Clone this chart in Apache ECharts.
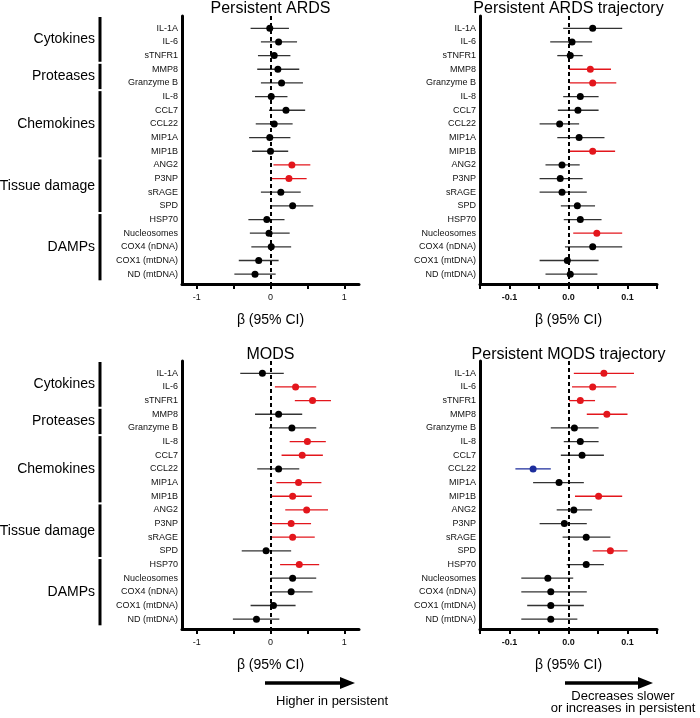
<!DOCTYPE html>
<html>
<head>
<meta charset="utf-8">
<script src="https://cdn.jsdelivr.net/npm/echarts@6/dist/echarts.min.js"></script>
<style>
html, body { margin: 0; padding: 0; background: #fff; }
#chart { width: 700px; height: 718px; }
</style>
</head>
<body>
<div id="chart"></div>
<script>
var markers = ['IL-1A', 'IL-6', 'sTNFR1', 'MMP8', 'Granzyme B', 'IL-8', 'CCL7', 'CCL22', 'MIP1A', 'MIP1B',
    'ANG2', 'P3NP', 'sRAGE', 'SPD', 'HSP70', 'Nucleosomes', 'COX4 (nDNA)', 'COX1 (mtDNA)', 'ND (mtDNA)'];

var groupNames = ['Cytokines', 'Proteases', 'Chemokines', 'Tissue damage', 'DAMPs'];
var groupFirst = [0, 3, 5, 10, 14];
var groupLast = [2, 4, 9, 13, 18];

// 1 = significant positive (red), -1 = significant negative (blue)
var ardsBeta = [-0.01, 0.11, 0.05, 0.10, 0.15, 0.01, 0.21, 0.05, -0.01, 0.00, 0.29, 0.25, 0.14, 0.30, -0.05, -0.02, 0.01, -0.16, -0.21];
var ardsLow = [-0.27, -0.13, -0.17, -0.18, -0.13, -0.21, -0.02, -0.20, -0.29, -0.25, 0.04, 0.01, -0.13, 0.00, -0.30, -0.28, -0.26, -0.43, -0.49];
var ardsHigh = [0.25, 0.36, 0.27, 0.39, 0.44, 0.23, 0.47, 0.30, 0.27, 0.24, 0.54, 0.49, 0.41, 0.58, 0.19, 0.26, 0.28, 0.11, 0.07];
var ardsSig = [0, 0, 0, 0, 0, 0, 0, 0, 0, 0, 1, 1, 0, 0, 0, 0, 0, 0, 0];

var ardsTrajBeta = [0.041, 0.006, 0.003, 0.037, 0.041, 0.020, 0.016, -0.015, 0.018, 0.041, -0.011, -0.014, -0.011, 0.015, 0.020, 0.048, 0.041, -0.002, 0.003];
var ardsTrajLow = [-0.009, -0.031, -0.019, 0.001, 0.002, -0.009, -0.018, -0.049, -0.019, 0.002, -0.039, -0.049, -0.049, -0.013, -0.008, 0.008, -0.006, -0.049, -0.039];
var ardsTrajHigh = [0.091, 0.040, 0.024, 0.072, 0.081, 0.051, 0.051, 0.018, 0.061, 0.079, 0.019, 0.024, 0.031, 0.045, 0.056, 0.091, 0.091, 0.051, 0.049];
var ardsTrajSig = [0, 0, 0, 1, 1, 0, 0, 0, 0, 1, 0, 0, 0, 0, 0, 1, 0, 0, 0];

var modsBeta = [-0.11, 0.34, 0.57, 0.11, 0.29, 0.50, 0.43, 0.11, 0.38, 0.30, 0.49, 0.28, 0.30, -0.06, 0.39, 0.30, 0.28, 0.04, -0.19];
var modsLow = [-0.41, 0.06, 0.33, -0.21, -0.02, 0.26, 0.15, -0.18, 0.08, 0.02, 0.20, 0.00, 0.01, -0.39, 0.13, 0.00, 0.00, -0.27, -0.51];
var modsHigh = [0.18, 0.62, 0.82, 0.43, 0.62, 0.75, 0.71, 0.39, 0.69, 0.56, 0.78, 0.55, 0.60, 0.28, 0.66, 0.62, 0.57, 0.34, 0.12];
var modsSig = [0, 1, 1, 0, 0, 1, 1, 0, 1, 1, 1, 1, 1, 0, 1, 0, 0, 0, 0];

var modsTrajBeta = [0.060, 0.041, 0.020, 0.065, 0.010, 0.020, 0.023, -0.060, -0.016, 0.051, 0.009, -0.007, 0.030, 0.071, 0.030, -0.035, -0.030, -0.030, -0.030];
var modsTrajLow = [0.009, 0.006, 0.001, 0.031, -0.030, -0.008, -0.013, -0.090, -0.060, 0.011, -0.020, -0.049, -0.010, 0.041, -0.003, -0.080, -0.080, -0.070, -0.080];
var modsTrajHigh = [0.111, 0.081, 0.045, 0.100, 0.051, 0.051, 0.060, -0.030, 0.026, 0.091, 0.040, 0.031, 0.071, 0.100, 0.060, 0.008, 0.031, 0.026, 0.015];
var modsTrajSig = [1, 1, 1, 1, 0, 0, 0, -1, 0, 1, 0, 0, 0, 1, 0, 0, 0, 0, 0];

var panelTitles = ['Persistent ARDS', 'Persistent ARDS trajectory', 'MODS', 'Persistent MODS trajectory'];
var wideTicks = [-1, -0.5, 0, 0.5, 1];
var wideLabels = [-1, 0, 1];
var narrowTicks = [-0.15, -0.1, -0.05, 0, 0.05, 0.1, 0.15];
var narrowLabels = [-0.1, 0, 0.1];

(function (window) {
    "use strict";
    var FONT = 'Liberation Sans, Arial, sans-serif';
    var RED = '#e3161c';
    var BLUE = '#1c2d9c';

    var dot_color = function (s) {
        if (s === 1) return RED;
        if (s === -1) return BLUE;
        return '#000';
    };
    var bar_color = function (s) {
        if (s === 1) return RED;
        if (s === -1) return BLUE;
        return '#333';
    };

    var panels = [
        { beta: ardsBeta, low: ardsLow, high: ardsHigh, sig: ardsSig, wide: true, left: 182, top: 16, titleY: 9 },
        { beta: ardsTrajBeta, low: ardsTrajLow, high: ardsTrajHigh, sig: ardsTrajSig, wide: false, left: 480, top: 16, titleY: 9 },
        { beta: modsBeta, low: modsLow, high: modsHigh, sig: modsSig, wide: true, left: 182, top: 361, titleY: 355 },
        { beta: modsTrajBeta, low: modsTrajLow, high: modsTrajHigh, sig: modsTrajSig, wide: false, left: 480, top: 361, titleY: 355 }
    ];
    var GRID_W = 177, GRID_H = 268;

    var build_option = function () {
        var grid = [], xAxis = [], yAxis = [], series = [];
        panels.forEach(function (p, k) {
            grid.push({ left: p.left, top: p.top, width: GRID_W, height: GRID_H });
            xAxis.push({
                type: 'value',
                gridIndex: k,
                min: p.wide ? -1.2 : -0.15,
                max: p.wide ? 1.2 : 0.15,
                name: 'β (95% CI)',
                nameLocation: 'middle',
                nameGap: 29,
                nameTextStyle: { fontFamily: FONT, fontSize: 14, color: '#000' },
                splitLine: { show: false },
                axisLine: { onZero: false, lineStyle: { color: '#000', width: 3 } },
                axisTick: {
                    customValues: p.wide ? wideTicks : narrowTicks,
                    length: 5,
                    lineStyle: { color: '#000', width: 2 }
                },
                axisLabel: {
                    customValues: p.wide ? wideLabels : narrowLabels,
                    margin: 9,
                    fontFamily: FONT,
                    fontSize: 9,
                    fontWeight: p.wide ? 'normal' : 'bold',
                    color: '#111',
                    formatter: function (v) {
                        return p.wide ? String(v) : v.toFixed(1);
                    }
                }
            });
            yAxis.push({
                type: 'value',
                gridIndex: k,
                inverse: true,
                min: -0.9,
                max: 18.72,
                splitLine: { show: false },
                axisLine: { onZero: false, lineStyle: { color: '#000', width: 3 } },
                axisTick: { show: false },
                axisLabel: {
                    customValues: markers.map(function (m, i) { return i; }),
                    margin: 4,
                    fontFamily: FONT,
                    fontSize: 9,
                    color: '#111',
                    formatter: function (v) {
                        return markers[Math.round(v)] || '';
                    }
                }
            });
            series.push({
                type: 'custom',
                xAxisIndex: k,
                yAxisIndex: k,
                z: 2,
                encode: { x: [0, 1], y: 2 },
                data: p.low.map(function (lo, i) {
                    return [lo, p.high[i], i, p.sig[i]];
                }),
                renderItem: function (params, api) {
                    var a = api.coord([api.value(0), api.value(2)]);
                    var b = api.coord([api.value(1), api.value(2)]);
                    return {
                        type: 'line',
                        shape: { x1: a[0], y1: a[1], x2: b[0], y2: b[1] },
                        style: { stroke: bar_color(api.value(3)), lineWidth: 1.3 }
                    };
                },
                markLine: {
                    silent: true,
                    symbol: 'none',
                    label: { show: false },
                    lineStyle: { color: '#000', width: 2, type: [4, 3] },
                    data: [{ xAxis: 0 }]
                }
            });
            series.push({
                type: 'scatter',
                xAxisIndex: k,
                yAxisIndex: k,
                z: 3,
                symbolSize: 7,
                data: p.beta.map(function (b, i) {
                    return [b, i, p.sig[i]];
                }),
                itemStyle: {
                    opacity: 1,
                    color: function (d) { return dot_color(d.value[2]); }
                }
            });
        });
        return {
            animation: false,
            backgroundColor: '#fff',
            grid: grid,
            xAxis: xAxis,
            yAxis: yAxis,
            series: series
        };
    };

    var arrow = function (x1, x2, y) {
        return {
            type: 'group',
            children: [
                { type: 'line', shape: { x1: x1, y1: y, x2: x2 - 12, y2: y }, style: { stroke: '#000', lineWidth: 3.5 } },
                { type: 'polygon', shape: { points: [[x2 - 15, y - 6], [x2, y], [x2 - 15, y + 6]] }, style: { fill: '#000' } }
            ]
        };
    };

    var add_annotations = function (chart) {
        var elements = [];
        panels.forEach(function (p, k) {
            elements.push({
                type: 'text',
                x: p.left + GRID_W / 2,
                y: p.titleY,
                style: {
                    text: panelTitles[k],
                    fontFamily: FONT,
                    fontSize: 16,
                    fill: '#000',
                    align: 'center',
                    verticalAlign: 'middle'
                }
            });
        });
        [0, 2].forEach(function (k) {
            groupNames.forEach(function (g, j) {
                var yTop = chart.convertToPixel({ gridIndex: k }, [0, Math.max(groupFirst[j] - 0.4, -0.9)])[1];
                var yBot = chart.convertToPixel({ gridIndex: k }, [0, groupLast[j] + 0.45])[1];
                if (j === 0) yTop = panels[k].top + 1;
                elements.push({
                    type: 'line',
                    shape: { x1: 100, y1: yTop, x2: 100, y2: yBot },
                    style: { stroke: '#000', lineWidth: 3 }
                });
                elements.push({
                    type: 'text',
                    x: 95,
                    y: (yTop + yBot) / 2,
                    style: {
                        text: g,
                        fontFamily: FONT,
                        fontSize: 14,
                        fill: '#000',
                        align: 'right',
                        verticalAlign: 'middle'
                    }
                });
            });
        });
        elements.push(arrow(265, 355, 683));
        elements.push(arrow(565, 653, 683));
        elements.push({
            type: 'text', x: 332, y: 701,
            style: { text: 'Higher in persistent', fontFamily: FONT, fontSize: 13, fill: '#000', align: 'center', verticalAlign: 'middle' }
        });
        elements.push({
            type: 'text', x: 623, y: 702,
            style: {
                text: 'Decreases slower\nor increases in persistent',
                fontFamily: FONT, fontSize: 13, lineHeight: 12, fill: '#000', align: 'center', verticalAlign: 'middle'
            }
        });
        chart.setOption({ graphic: { elements: elements } });
    };

    var load = function () {
        var chart = echarts.init(document.getElementById('chart'));
        chart.setOption(build_option());
        add_annotations(chart);
    };

    window.addEventListener('load', load, false);
})(window);
</script>
</body>
</html>
